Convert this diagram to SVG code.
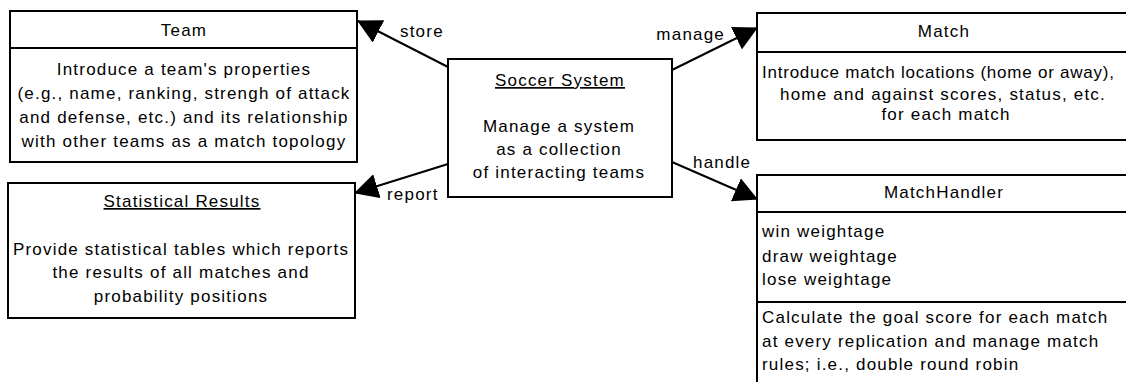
<svg xmlns="http://www.w3.org/2000/svg" width="1126" height="382" viewBox="0 0 1126 382">
<style>
  .box { fill: #ffffff; stroke: #000000; stroke-width: 2; }
  .div { stroke: #000000; stroke-width: 2; }
  text { font-family: "Liberation Sans", Arial, sans-serif; font-size: 17px; letter-spacing: 1.2px; fill: #000000; }
  .c { text-anchor: middle; }
  .u { text-decoration: underline; }
  .conn { stroke: #000000; stroke-width: 2; fill: none; marker-end: url(#arrow); }
</style>
<defs>
  <marker id="arrow" markerUnits="userSpaceOnUse" markerWidth="25" markerHeight="25" refX="23" refY="12.5" orient="auto" viewBox="0 0 25 25">
    <path d="M0,0 L24,12.5 L0,25 Z" fill="#000000"/>
  </marker>
</defs>
<rect width="1126" height="382" fill="#ffffff"/>

<g id="connectors">
  <path class="conn" d="M448,67 L358,21"/>
  <path class="conn" d="M448,164 L355,193"/>
  <path class="conn" d="M672,70 L757,28"/>
  <path class="conn" d="M672,162 L757,199"/>
  <text x="400" y="37">store</text>
  <text x="387" y="200">report</text>
  <text x="725" y="40" style="text-anchor:end">manage</text>
  <text x="693" y="168">handle</text>
</g>

<g id="team">
  <rect class="box" x="10" y="11" width="347" height="151"/>
  <line class="div" x1="10" y1="48" x2="357" y2="48"/>
  <text class="c" x="184" y="36">Team</text>
  <text class="c" x="184" y="75">Introduce a team's properties</text>
  <text class="c" x="184" y="99">(e.g., name, ranking, strengh of  attack</text>
  <text class="c" x="184" y="123">and defense, etc.) and its relationship</text>
  <text class="c" x="184" y="147">with other teams as a match topology</text>
</g>

<g id="statistical-results">
  <rect class="box" x="8" y="183" width="347" height="135"/>
  <text class="c u" x="182" y="207">Statistical Results</text>
  <text class="c" x="181" y="255">Provide statistical tables which reports</text>
  <text class="c" x="181" y="278">the results of all matches and</text>
  <text class="c" x="181" y="302">probability positions</text>
</g>

<g id="soccer-system">
  <rect class="box" x="448" y="59" width="224" height="138"/>
  <text class="c u" x="560" y="86">Soccer System</text>
  <text class="c" x="559" y="132">Manage a system</text>
  <text class="c" x="559" y="155">as a collection</text>
  <text class="c" x="559" y="178">of interacting teams</text>
</g>

<g id="match">
  <rect class="box" x="757" y="13" width="380" height="127"/>
  <line class="div" x1="757" y1="52" x2="1137" y2="52"/>
  <text class="c" x="944" y="37">Match</text>
  <text x="762" y="78" style="letter-spacing:0" textLength="352" lengthAdjust="spacing">Introduce match locations (home or away),</text>
  <text class="c" x="943" y="100">home and against scores, status, etc.</text>
  <text class="c" x="946" y="120">for each match</text>
</g>

<g id="match-handler">
  <rect class="box" x="757" y="175" width="380" height="220"/>
  <line class="div" x1="757" y1="212" x2="1137" y2="212"/>
  <line class="div" x1="757" y1="302" x2="1137" y2="302"/>
  <text class="c" x="944" y="198">MatchHandler</text>
  <text x="762" y="237">win weightage</text>
  <text x="762" y="262">draw weightage</text>
  <text x="762" y="285">lose weightage</text>
  <text x="762" y="323">Calculate the goal score for each match</text>
  <text x="762" y="347">at every replication and manage match</text>
  <text x="762" y="370">rules; i.e., double round robin</text>
</g>
</svg>
